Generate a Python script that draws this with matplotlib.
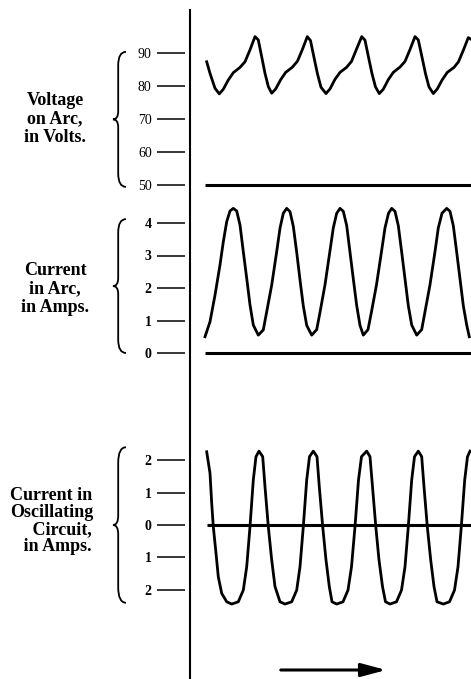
import matplotlib
matplotlib.use("Agg")
import matplotlib.pyplot as plt
from matplotlib.lines import Line2D
from matplotlib.path import Path
from matplotlib.patches import PathPatch, FancyArrowPatch
from matplotlib.transforms import blended_transform_factory

plt.rcParams['font.family'] = ['Liberation Serif', 'DejaVu Serif']

# time axis is in arbitrary units (distance along the record)
volt_t = [16.7, 20, 25, 29.3, 33.3, 38.3, 43.3, 50, 55, 60, 65, 68.3, 71.7, 75, 78.3,
          81.7, 85.7, 90.7, 95.7, 102.5, 107.5, 112.5, 117.3, 120.5, 124, 127.5, 131,
          136, 140, 145, 150, 156.5, 161.5, 166.5, 171.7, 175, 178.5, 182, 185.5,
          189.3, 193.3, 198.3, 203.3, 210, 215, 220, 225, 228.3, 232, 235.5, 239,
          243.3, 247.3, 252.3, 257.3, 264, 268.5, 273.5, 278.3, 281]
volt_v = [87.2, 83.7, 79.2, 77.5, 78.9, 81.7, 83.9, 85.5, 87.2, 90.8, 94.8, 93.8, 88.7,
          83.7, 79.7, 77.7, 79.0, 81.8, 84.0, 85.6, 87.4, 91.0, 94.8, 93.6, 88.5, 83.5,
          79.5, 77.6, 79.0, 81.9, 84.0, 85.5, 87.3, 91.0, 94.8, 93.7, 88.6, 83.6, 79.6,
          77.6, 78.9, 81.8, 84.0, 85.6, 87.3, 90.9, 94.8, 93.8, 88.6, 83.6, 79.6, 77.6,
          79.0, 81.8, 84.0, 85.5, 87.2, 90.8, 94.5, 94.0]

arc_t = [15, 20, 25, 30, 33.3, 36.7, 40, 43.3, 46.7, 50, 53.3, 56.7, 60, 63.3, 68.3,
         73.3, 76.7, 81.7, 86.7, 90, 93.3, 96.7, 100, 103.3, 106.7, 110, 113.3, 116.7,
         121.7, 126.7, 130, 135, 140, 143.3, 146.7, 150, 153.3, 156.7, 160, 163.3,
         166.7, 170, 173.3, 178, 181.5, 186.5, 191.5, 195, 198.5, 201.7, 205, 208.3,
         211.7, 215, 218.3, 221.7, 226.7, 231.7, 235, 240, 245, 248.3, 252, 256.7, 260,
         263.3, 266.7, 270, 273.3, 276.7, 279.3]
arc_a = [0.50, 0.96, 1.78, 2.71, 3.42, 4.04, 4.37, 4.45, 4.37, 3.94, 3.12, 2.30, 1.48,
         0.86, 0.55, 0.71, 1.27, 2.09, 3.12, 3.84, 4.30, 4.45, 4.35, 3.90, 3.10, 2.25,
         1.45, 0.85, 0.55, 0.72, 1.25, 2.10, 3.15, 3.85, 4.30, 4.45, 4.36, 3.92, 3.10,
         2.28, 1.46, 0.85, 0.55, 0.72, 1.27, 2.10, 3.12, 3.85, 4.30, 4.45, 4.36, 3.92,
         3.10, 2.28, 1.46, 0.86, 0.55, 0.72, 1.27, 2.10, 3.12, 3.85, 4.30, 4.45, 4.36,
         3.92, 3.10, 2.28, 1.46, 0.86, 0.50]

osc_t = [16.7, 20, 21.7, 23.3, 26, 28.3, 31.7, 36.7, 41.7, 48.3, 53.3, 56.7, 60, 63.3,
         66, 69, 72.7, 75, 78.3, 81.7, 85, 90, 95, 101.7, 106.7, 110, 113.3, 116.7,
         119.5, 123.3, 127, 129.3, 132.7, 136, 139.3, 142, 146.7, 153, 158, 161.5, 165,
         168.5, 171.5, 176.7, 180, 182.5, 185.8, 189, 192.5, 195.5, 200, 206.5, 211.5,
         215, 218.3, 221.7, 224.5, 228.3, 231.7, 234, 237.3, 240.7, 244, 247, 253.3,
         259.5, 264.5, 268, 271.3, 274.7, 277.5, 280]
osc_i = [2.26, 1.60, 0.67, -0.05, -0.87, -1.60, -2.11, -2.37, -2.44, -2.37, -2.01,
         -1.29, -0.05, 1.39, 2.11, 2.28, 2.11, 1.18, -0.05, -1.08, -1.90, -2.37, -2.44,
         -2.37, -2.01, -1.29, -0.05, 1.39, 2.11, 2.28, 2.11, 1.18, -0.05, -1.08, -1.90,
         -2.37, -2.44, -2.37, -2.01, -1.29, -0.05, 1.39, 2.11, 2.28, 2.11, 1.18, -0.05,
         -1.08, -1.90, -2.37, -2.44, -2.37, -2.01, -1.29, -0.05, 1.39, 2.11, 2.28, 2.11,
         1.18, -0.05, -1.08, -1.90, -2.37, -2.44, -2.37, -2.01, -1.29, -0.05, 1.39,
         2.11, 2.28]

volt_ticks = [90, 80, 70, 60, 50]
volt_labels = ['90', '80', '70', '60', '50']
arc_ticks = [4, 3, 2, 1, 0]
arc_labels = ['4', '3', '2', '1', '0']
osc_ticks = [2, 1, 0, -1, -2]
osc_labels = ['2', '1', '0', '1', '2']

volt_title = 'Voltage\non Arc,\nin Volts.'
arc_title = 'Current\nin Arc,\nin Amps.'
osc_title = 'Current in\nOscillating\n     Circuit,\n   in Amps.'

W, H = 471, 679
fig = plt.figure(figsize=(W / 100, H / 100), dpi=100)
X0 = 190  # pixel column of the long vertical rule


def panel(ref_val, ref_px, px_per_unit, lo, hi):
    top = ref_px - (hi - ref_val) * px_per_unit
    bot = ref_px + (ref_val - lo) * px_per_unit
    ax = fig.add_axes([X0 / W, 1 - bot / H, (W - X0) / W, (bot - top) / H])
    ax.set_ylim(lo, hi)
    ax.set_xlim(0, W - X0)
    ax.patch.set_alpha(0)
    for s in ax.spines.values():
        s.set_visible(False)
    ax.spines['left'].set_position(('outward', 3.6))
    ax.set_xticks([])
    ax.tick_params(axis='y', length=20, width=1.1, pad=4, labelsize=10)
    return ax


def brace(ax, lo, hi, x_tip=113, width=13):
    tr = blended_transform_factory(fig.transFigure, ax.transData)
    uv = [(1, 1), (0.4, 1), (0.4, 0.9), (0.4, 0.56), (0.4, 0.5), (0, 0.5),
          (0.4, 0.5), (0.4, 0.44), (0.4, 0.1), (0.4, 0), (1, 0)]
    codes = [Path.MOVETO, Path.CURVE3, Path.CURVE3, Path.LINETO, Path.CURVE3,
             Path.CURVE3, Path.CURVE3, Path.CURVE3, Path.LINETO, Path.CURVE3, Path.CURVE3]
    verts = [((x_tip + u * width) / W, lo + v * (hi - lo)) for u, v in uv]
    ax.add_patch(PathPatch(Path(verts, codes), transform=tr, fill=False,
                           lw=1.3, color='black', clip_on=False))


lw_wave = 2.0
lw_base = 2.2

# voltage on arc
ax1 = panel(90, 52.5, 3.31, 46, 98)
ax1.plot(volt_t, volt_v, color='black', lw=lw_wave, solid_joinstyle='round')
ax1.hlines(50, 15, W - X0, color='black', lw=lw_base)
ax1.set_yticks(volt_ticks, volt_labels)
brace(ax1, 49.4, 90.2)

# current in arc
ax2 = panel(0, 353, 32.5, -0.4, 4.9)
ax2.plot(arc_t, arc_a, color='black', lw=lw_wave, solid_joinstyle='round')
ax2.hlines(0, 15, W - X0, color='black', lw=lw_base)
ax2.set_yticks(arc_ticks, arc_labels)
ax2.tick_params(axis='y', labelsize=10)
for lab in ax2.get_yticklabels():
    lab.set_fontweight('bold')
brace(ax2, 0.0, 4.12)

# current in oscillating circuit
ax3 = panel(0, 525, 32.4, -2.9, 2.9)
ax3.plot(osc_t, osc_i, color='black', lw=lw_wave, solid_joinstyle='round')
ax3.hlines(0, 16.7, W - X0, color='black', lw=lw_base)
ax3.set_yticks(osc_ticks, osc_labels)
for lab in ax3.get_yticklabels():
    lab.set_fontweight('bold')
brace(ax3, -2.4, 2.4)

# long vertical rule
fig.add_artist(Line2D([X0 / W, X0 / W], [0, 1 - 10 / H], color='black', lw=1.5))

# side labels
fig.text(55 / W, 1 - 119 / H, volt_title, ha='center', va='center', fontsize=13,
         fontweight='bold', linespacing=1.12)
fig.text(55 / W, 1 - 289 / H, arc_title, ha='center', va='center', fontsize=13,
         fontweight='bold', linespacing=1.12)
fig.text(10 / W, 1 - 521 / H, osc_title, ha='left', va='center', fontsize=13,
         fontweight='bold', linespacing=1.02)

# direction arrow
fig.add_artist(FancyArrowPatch(
    (278 / W, 1 - 670 / H), (389 / W, 1 - 670 / H), transform=fig.transFigure,
    arrowstyle='-|>,head_length=1.5,head_width=0.4', mutation_scale=10,
    lw=2.2, color='black'))

fig.savefig('out.png', dpi=100)
